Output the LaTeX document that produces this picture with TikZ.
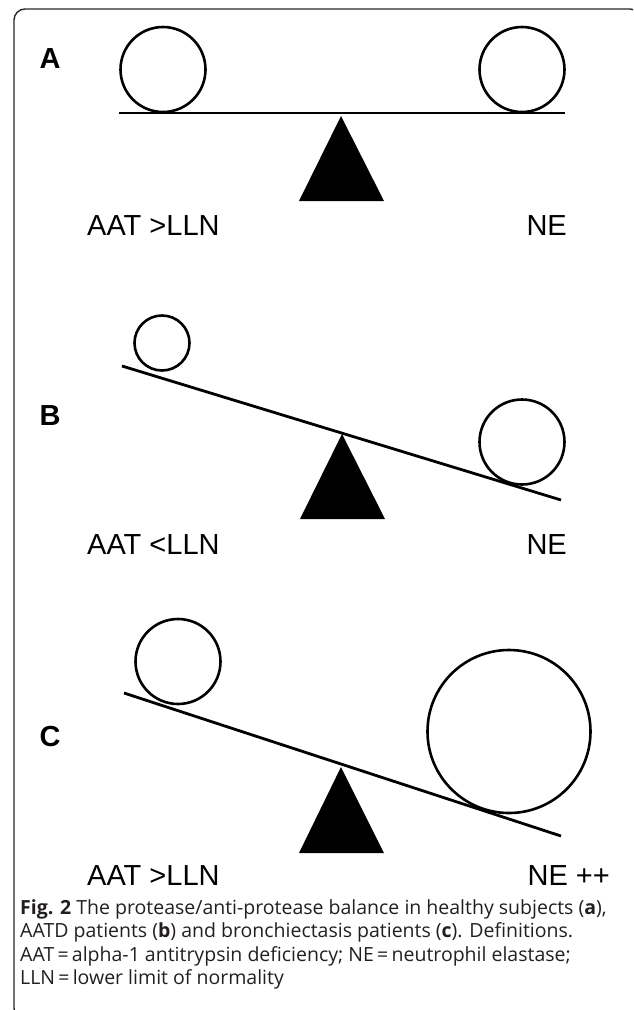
\documentclass[tikz,border=0pt]{standalone}
\usepackage{fontspec}
\setmainfont{Liberation Sans}
\newfontfamily\capfont{Open Sans}
\usepackage{xcolor}
\usepackage{tikz}
\usetikzlibrary{calc,positioning}

\definecolor{framegray}{RGB}{40,40,40}
\definecolor{capgray}{RGB}{35,31,32}

\tikzset{
  beam/.style={line width=2.8pt},
  weight/.style={line width=2.6pt},
  pivot/.style={fill=black},
  panel/.style={font=\bfseries\fontsize{29}{34}\selectfont, inner sep=0pt},
  side/.style={font=\fontsize{29}{34}\selectfont, inner sep=0pt},
  capline/.style={font=\capfont\fontsize{19.5}{23}\selectfont, text=capgray, inner sep=0pt, anchor=base west}
}

\begin{document}
\begin{tikzpicture}[x=1pt,y=-1pt]

\useasboundingbox (0,0) rectangle (633,1010);
\begin{scope}
  \clip (0,0) rectangle (633,1010);
  \draw[framegray, line width=1.4pt, rounded corners=11pt] (14,9) rectangle (641,1019);
\end{scope}

% A
\node[panel, anchor=base] (labA) at (50,68) {A};
\draw[beam] (119,113) -- (565,113);
\draw[weight] (163,69.5) circle (42.5);
\draw[weight] (522,69.5) circle (42.5);
\fill[pivot] (341,116) -- (299,201) -- (384,201) -- cycle;
\node[side, anchor=base west] (aatA) at (87,235) {AAT >LLN};
\node[side, anchor=base east] (neA) at (567,235) {NE};

% B
\node[panel, anchor=base] (labB) at (50,425) {B};
\draw[beam] (122,366) -- (561,500);
\draw[weight] (162,343) circle (27.5);
\draw[weight] (522,442) circle (42.5);
\fill[pivot] (342,434) -- (300,519) -- (385,519) -- cycle;
\node[side, anchor=base west] (aatB) at (87,554) {AAT <LLN};
\node[side, anchor=base east] (neB) at (567,554) {NE};

% C
\node[panel, anchor=base] (labC) at (50,746) {C};
\draw[beam] (124,693) -- (561,836);
\draw[weight] (178,661.5) circle (42.5);
\draw[weight] (509,731.5) circle (81.5);
\fill[pivot] (341,767) -- (299,853) -- (384,853) -- cycle;
\node[side, anchor=base west] (aatC) at (87,885) {AAT >LLN};
\node[side, anchor=base east] (neC) at (610,885) {NE ++};

% caption
\node[capline] (cap1) at (20,914) {\textbf{Fig. 2} The protease/anti-protease balance in healthy subjects (\textbf{a}),};
\node[capline] (cap2) at (20,937.5) {AATD patients (\textbf{b}) and bronchiectasis patients (\textbf{c}). Definitions.};
\node[capline] (cap3) at (20,961) {AAT\,=\,alpha-1 antitrypsin deficiency; NE\,=\,neutrophil elastase;};
\node[capline] (cap4) at (20,984.5) {LLN\,=\,lower limit of normality};

\end{tikzpicture}
\end{document}
